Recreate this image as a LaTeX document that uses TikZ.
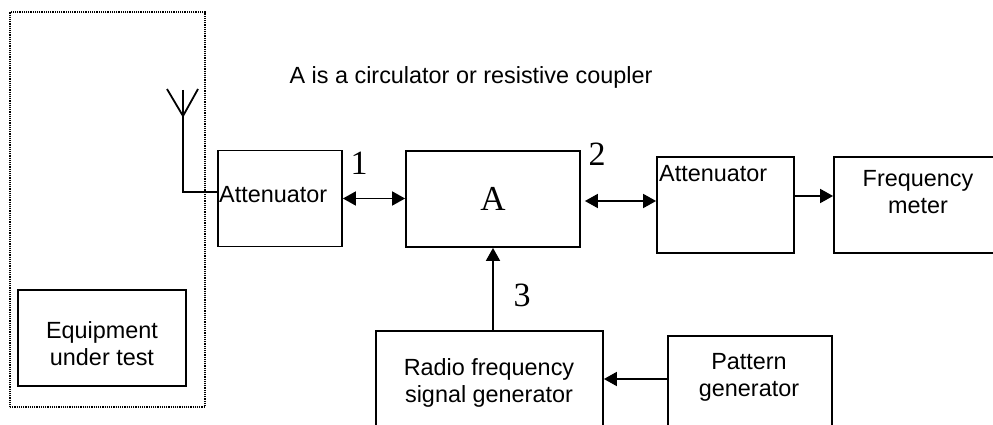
\documentclass[tikz,border=0pt]{standalone}
\usepackage{fontspec}
\setmainfont{Liberation Sans}
\newfontfamily\serifnum{Liberation Serif}
\usetikzlibrary{arrows.meta,positioning,calc}

\begin{document}
\begin{tikzpicture}[x=1pt,y=-1pt,
  box/.style={draw,line width=1.8pt,inner sep=0pt,minimum height=96pt},
  txt/.style={font=\fontsize{23.4}{27}\selectfont,align=center,inner sep=0pt},
  num/.style={font=\serifnum\fontsize{34}{34}\selectfont,inner sep=0pt},
  wire/.style={line width=1.8pt},
  arr/.style={-{Triangle[length=13pt,width=14pt]},line width=1.8pt},
  dbl/.style={{Triangle[length=13pt,width=14pt]}-{Triangle[length=13pt,width=14pt]},line width=1.8pt}]
\useasboundingbox (0,0) rectangle (993,425);
\clip (0,0) rectangle (993,425);
% enclosure of the equipment under test
\node[draw,line width=1.2pt,dash pattern=on 1.2pt off 1pt,inner sep=0pt,
  minimum width=195pt,minimum height=395pt] (encl) at (107.5,209.5) {};
% blocks
\node[box,minimum width=124pt] (att1) at (280,198.5) {};
\node[box,minimum width=174pt,font=\serifnum\fontsize{35}{35}\selectfont] (circ) at (493,199) {A};
\node[box,minimum width=137pt] (att2) at (725.5,205) {};
\node[box,minimum width=180pt] (freq) at (924,205) {};
\node[box,minimum width=168pt] (eut) at (102,338) {};
\node[box,minimum width=227pt] (rfgen) at (489.5,379) {};
\node[box,minimum width=164pt] (patgen) at (750,384) {};
% texts
\node[txt,anchor=base] (title) at (471,84) {A is a circulator or resistive coupler};
\node[txt,anchor=base west] (att1txt) at (219,202) {Attenuator};
\node[txt,anchor=base west] (att2txt) at (659,181) {Attenuator};
\node[txt] (freqtxt) at (918,192) {Frequency\\meter};
\node[txt] (euttxt) at (102,344) {Equipment\\under test};
\node[txt] (rftxt) at (489,383) {Radio frequency\\signal generator};
\node[txt] (pattxt) at (749,377) {Pattern\\generator};
\node[num] (port1) at (359,163) {1};
\node[num] (port2) at (597,154) {2};
\node[num] (port3) at (522,295) {3};
% antenna
\coordinate (mast) at (183,90);
\coordinate (apex) at (183,116);
\coordinate (feed) at (183,192);
\draw[wire] (167,89) -- (apex) -- (198,89);
\draw[wire] (mast) -- (feed) -- (feed -| att1.west);
% connections
\draw[dbl] (att1.east) -- (att1.east -| circ.west);
\draw[dbl] ([xshift=4pt,yshift=-2pt]circ.east) -- ([yshift=-2pt]circ.east -| att2.west);
\draw[arr] ([yshift=9pt]att2.east) -- ([yshift=9pt]att2.east -| freq.west);
\draw[arr] (circ.south |- rfgen.north) -- (circ.south);
\draw[arr] (rfgen.east -| patgen.west) -- (rfgen.east);
\end{tikzpicture}
\end{document}
